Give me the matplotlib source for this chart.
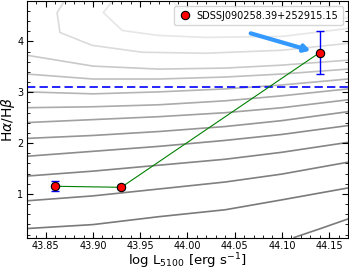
import matplotlib
matplotlib.use('Agg')
import matplotlib.pyplot as plt
import numpy as np

# measured points
logL = [43.86, 43.93, 44.14]
ratio = [1.15, 1.13, 3.78]
ratio_err = [0.10, 0.04, 0.42]
label = 'SDSSJ090258.39+252915.15'

# background contour lines (x, y, grey level)
cx = [43.83, 43.90, 43.97, 44.04, 44.10, 44.17]
contours = [
    ([44.113, 44.141, 44.171], [0.142, 0.318, 0.513], 0.48),
    (cx, [0.318, 0.396, 0.552, 0.688, 0.883, 1.117], 0.48),
    (cx, [0.864, 0.961, 1.097, 1.234, 1.390, 1.624], 0.50),
    (cx, [1.351, 1.448, 1.565, 1.682, 1.819, 2.014], 0.52),
    (cx, [1.741, 1.838, 1.936, 2.053, 2.170, 2.345], 0.55),
    (cx, [2.092, 2.150, 2.228, 2.326, 2.442, 2.618], 0.59),
    (cx, [2.404, 2.462, 2.520, 2.598, 2.696, 2.852], 0.63),
    (cx, [2.696, 2.715, 2.754, 2.832, 2.930, 3.066], 0.67),
    (cx, [3.008, 2.969, 3.008, 3.066, 3.144, 3.261], 0.71),
    (cx, [3.359, 3.261, 3.261, 3.300, 3.359, 3.456], 0.75),
    (cx, [3.729, 3.515, 3.456, 3.476, 3.534, 3.632], 0.79),
    ([43.870, 43.862, 43.865, 43.899, 43.952, 44.019, 44.100, 44.170],
     [4.801, 4.567, 4.177, 3.924, 3.788, 3.768, 3.827, 3.963], 0.86),
    ([43.921, 43.911, 43.931, 43.969, 44.019, 44.100, 44.170],
     [4.801, 4.567, 4.216, 4.119, 4.080, 4.099, 4.255], 0.90),
    ([43.984, 43.995, 44.024, 44.100, 44.170],
     [4.801, 4.567, 4.411, 4.372, 4.470], 0.94),
]

balmer = 3.1
arrow_from = (44.067, 4.16)
arrow_to = (44.136, 3.79)

fig = plt.figure(figsize=(3.49, 2.70), dpi=100)
ax = fig.add_axes([0.077, 0.12, 0.920, 0.877])

for xs, ys, g in contours:
    ax.plot(xs, ys, color=str(g), lw=1.2, zorder=1)

ax.axhline(balmer, color='blue', ls='--', lw=1.2, dashes=(5, 2.5), zorder=2)

ax.plot(logL, ratio, color='green', lw=0.8, zorder=3)
ax.errorbar(logL, ratio, yerr=ratio_err, fmt='none', ecolor='blue', elinewidth=1,
            capsize=3, capthick=1, zorder=4)
ax.plot(logL, ratio, 'o', color='red', mec='black', mew=0.8, ms=6, zorder=5, label=label)

ax.annotate('', xy=arrow_to, xytext=arrow_from,
            arrowprops=dict(arrowstyle='-|>,head_length=0.35,head_width=0.2',
                            lw=3, color='#3399ff', shrinkA=0, shrinkB=4),
            zorder=6)

ax.set_xlim(43.83, 44.17)
ax.set_ylim(0.14, 4.8)
ax.set_xticks([43.85, 43.90, 43.95, 44.00, 44.05, 44.10, 44.15])
ax.set_xticklabels(['43.85', '43.90', '43.95', '44.00', '44.05', '44.10', '44.15'])
ax.set_yticks([1, 2, 3, 4])
ax.minorticks_on()
ax.tick_params(which='both', direction='in', top=True, right=True, labelsize=7)
ax.tick_params(which='major', length=4, pad=2.5)
ax.tick_params(which='minor', length=2)

ax.set_xlabel(r'log L$_{5100}$ [erg s$^{-1}$]', fontsize=9.5, labelpad=0)
ax.set_ylabel(r'H$\alpha$/H$\beta$', fontsize=10, labelpad=0)

ax.legend(loc='upper right', fontsize=7, handletextpad=0.6, borderpad=0.5,
          handlelength=1.2, numpoints=1)

fig.savefig('out.png', dpi=100)
